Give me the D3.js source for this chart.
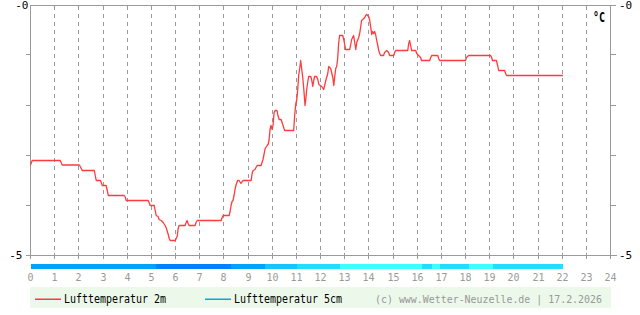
<!DOCTYPE html>
<html><head><meta charset="utf-8">
<script src="https://cdn.jsdelivr.net/npm/d3@7"></script>
<style>body{margin:0;background:#fff}svg{display:block;background:#fff}</style>
</head><body>
<svg id="c" width="640" height="315"></svg>
<script>
// ---- data ----
const hours = [0.00,0.07,1.23,1.31,2.02,2.06,2.14,2.64,2.68,2.72,2.89,2.93,2.97,3.13,3.22,3.88,3.92,3.96,4.87,4.91,4.95,5.12,5.16,5.20,5.28,5.32,5.41,5.49,5.57,5.61,5.70,5.74,5.78,5.99,6.07,6.11,6.15,6.40,6.44,6.48,6.52,6.56,6.81,6.85,6.90,7.89,7.93,7.97,8.22,8.26,8.30,8.34,8.38,8.43,8.47,8.51,8.57,8.63,8.71,8.76,8.80,9.13,9.17,9.21,9.29,9.33,9.38,9.54,9.58,9.62,9.67,9.71,9.79,9.83,9.87,9.91,9.95,10.00,10.04,10.08,10.12,10.20,10.24,10.29,10.37,10.45,10.49,10.52,10.89,10.93,10.98,11.02,11.06,11.10,11.14,11.18,11.22,11.27,11.31,11.36,11.39,11.43,11.47,11.51,11.60,11.64,11.68,11.72,11.76,11.84,11.89,11.93,12.05,12.13,12.17,12.22,12.30,12.34,12.42,12.51,12.55,12.59,12.63,12.67,12.71,12.75,12.79,12.92,12.96,13.00,13.04,13.21,13.25,13.29,13.37,13.41,13.46,13.50,13.58,13.62,13.66,13.70,13.75,13.83,13.87,13.91,13.99,14.03,14.08,14.12,14.16,14.20,14.24,14.28,14.32,14.37,14.41,14.45,14.49,14.61,14.65,14.74,14.82,14.86,15.03,15.07,15.11,15.61,15.65,15.69,15.73,15.77,15.94,15.98,16.06,16.14,16.18,16.52,16.56,16.60,16.85,16.89,16.93,18.00,18.04,18.13,19.04,19.08,19.12,19.28,19.33,19.37,19.62,19.66,19.70,22.03];
const temp2m = [-3.20,-3.11,-3.11,-3.20,-3.20,-3.23,-3.31,-3.31,-3.41,-3.51,-3.51,-3.55,-3.61,-3.61,-3.81,-3.81,-3.84,-3.91,-3.91,-3.95,-4.01,-4.01,-4.11,-4.21,-4.23,-4.29,-4.31,-4.35,-4.41,-4.45,-4.59,-4.67,-4.71,-4.71,-4.63,-4.47,-4.41,-4.41,-4.35,-4.31,-4.37,-4.41,-4.41,-4.35,-4.31,-4.31,-4.25,-4.21,-4.21,-4.13,-4.01,-3.93,-3.91,-3.79,-3.67,-3.59,-3.51,-3.51,-3.57,-3.53,-3.51,-3.51,-3.37,-3.31,-3.29,-3.25,-3.21,-3.21,-3.15,-3.09,-2.97,-2.87,-2.81,-2.79,-2.71,-2.50,-2.41,-2.49,-2.39,-2.15,-2.11,-2.11,-2.21,-2.29,-2.29,-2.41,-2.47,-2.51,-2.51,-2.21,-1.97,-1.89,-1.67,-1.39,-1.27,-1.11,-1.27,-1.47,-1.69,-2.01,-1.89,-1.69,-1.55,-1.43,-1.43,-1.51,-1.63,-1.51,-1.43,-1.43,-1.49,-1.59,-1.63,-1.69,-1.61,-1.51,-1.37,-1.23,-1.27,-1.45,-1.61,-1.43,-1.27,-1.23,-1.07,-0.77,-0.61,-0.61,-0.69,-0.79,-0.89,-0.89,-0.79,-0.69,-0.61,-0.73,-0.89,-0.75,-0.65,-0.57,-0.45,-0.31,-0.29,-0.25,-0.21,-0.19,-0.23,-0.29,-0.45,-0.59,-0.53,-0.57,-0.53,-0.59,-0.69,-0.81,-0.91,-0.97,-1.01,-1.01,-0.95,-0.91,-0.95,-1.01,-1.01,-0.95,-0.91,-0.91,-0.77,-0.71,-0.81,-0.91,-0.91,-0.97,-1.01,-1.05,-1.11,-1.11,-1.05,-1.01,-1.01,-1.07,-1.11,-1.11,-1.05,-1.01,-1.01,-1.05,-1.11,-1.11,-1.21,-1.31,-1.31,-1.37,-1.41,-1.41];

// 5cm temperature band: segment starts/ends (hours) and colour level
const bandStart = [0.00,5.19,8.29,9.69,11.02,12.79,16.18,16.60,16.93,18.13,19.12];
const bandEnd   = [5.19,8.29,9.69,11.02,12.79,16.18,16.60,16.93,18.13,19.12,22.05];
const bandLevel = [1,0,1,2,3,4,3,4,3,4,3];
const bandColors = ["#0082ff","#00a2ff","#19c3ff","#22ddff","#3cffff"];

const xTicks = d3.range(0, 25);
const yTicks = [-5,-4,-3,-2,-1,0];
const yLabels = {"0":"-0","-5":"-5"};
const seriesNames = ["Lufttemperatur 2m","Lufttemperatur 5cm"];
const seriesColors = ["#ff3b3b","#00a8e8"];
const unitLabel = "°C";
const credit = "(c) www.Wetter-Neuzelle.de | 17.2.2026";

// ---- drawing ----
const svg = d3.select("#c");
const mono = "'DejaVu Sans Mono', monospace";
const grey = "#999";
const x = d3.scaleLinear().domain([0,24]).range([30.5,610.5]);
const y = d3.scaleLinear().domain([-5,0]).range([255,5]);
const px = v => Math.floor(x(v)) + 0.5;

// vertical dashed grid
svg.append("g").selectAll("line").data(d3.range(1,24)).join("line")
  .attr("x1", px).attr("x2", px).attr("y1", 6).attr("y2", 255)
  .attr("stroke", grey).attr("stroke-dasharray", "4,4").attr("shape-rendering","crispEdges");

// top border
svg.append("line").attr("x1",30).attr("x2",615).attr("y1",5.5).attr("y2",5.5)
  .attr("stroke",grey).attr("shape-rendering","crispEdges");

// bottom axis
const gx = svg.append("g").attr("transform","translate(0,255.5)")
  .call(d3.axisBottom(x).tickValues(xTicks).tickSize(3).tickFormat(d3.format("d")));
gx.select(".domain").attr("stroke",grey).attr("d","M30,0H611");
gx.selectAll(".tick").attr("transform", d => `translate(${px(d)},0)`);
gx.selectAll(".tick line").attr("stroke",grey).attr("y1",-3).attr("y2",3).attr("shape-rendering","crispEdges");
gx.selectAll(".tick text").attr("fill",grey).attr("y",25).attr("dy",0)
  .attr("font-family",mono).attr("font-size",10);

// left axis
const gl = svg.append("g").attr("transform","translate(30.5,0)")
  .call(d3.axisLeft(y).tickValues(yTicks).tickSize(5).tickFormat(d => yLabels[d] || ""));
gl.select(".domain").attr("stroke",grey).attr("d","M0,5V258");
gl.selectAll(".tick line").attr("stroke",grey).attr("shape-rendering","crispEdges")
  .attr("x2", d => d === 0 ? 0 : -5);
gl.selectAll(".tick").attr("transform", d => `translate(0,${Math.floor(y(d))+0.5})`);
gl.selectAll(".tick text").attr("fill","#000").attr("font-family",mono).attr("font-size",11)
  .attr("x", d => d === 0 ? -2 : -8).attr("dy","0.36em");

// right axis
const gr = svg.append("g").attr("transform","translate(610.5,0)")
  .call(d3.axisRight(y).tickValues(yTicks).tickSize(5).tickFormat(d => yLabels[d] || ""));
gr.select(".domain").attr("stroke",grey).attr("d","M0,5V258");
gr.selectAll(".tick line").attr("stroke",grey).attr("shape-rendering","crispEdges")
  .attr("x1", d => d === -5 ? -3 : 0).attr("x2", d => d === -5 ? 6 : 5);
gr.selectAll(".tick").attr("transform", d => `translate(0,${Math.floor(y(d))+0.5})`);
gr.selectAll(".tick text").attr("fill","#000").attr("font-family",mono).attr("font-size",11)
  .attr("x", 8.5).attr("dy","0.36em");

// unit
svg.append("text").attr("x",605).attr("y",22).attr("text-anchor","end")
  .attr("font-family","'DejaVu Sans Mono', monospace").attr("font-weight","bold")
  .attr("font-size",14).attr("textLength",12).attr("lengthAdjust","spacingAndGlyphs")
  .text(unitLabel);

// temperature line
const pts = hours.map((h,i) => ({h, t: temp2m[i]}));
svg.append("path").datum(pts)
  .attr("fill","none").attr("stroke",seriesColors[0]).attr("stroke-width",1.3)
  .attr("stroke-linejoin","round")
  .attr("d", d3.line().x(d => x(d.h)).y(d => y(d.t)));

// 5cm band
svg.append("g").selectAll("rect").data(bandStart).join("rect")
  .attr("x", (d,i) => Math.round(x(d)))
  .attr("width", (d,i) => Math.round(x(bandEnd[i])) - Math.round(x(d)))
  .attr("y", 264).attr("height", 5)
  .attr("fill", (d,i) => bandColors[bandLevel[i]]);

// legend
svg.append("rect").attr("x",30).attr("y",287).attr("width",581).attr("height",21).attr("fill","#ecf8ea");
const lg = [{x1:35,x2:61,tx:64,len:102},{x1:205,x2:231,tx:234,len:108}];
lg.forEach((l,i) => {
  svg.append("rect").attr("x",l.x1).attr("width",l.x2-l.x1).attr("y",298.5).attr("height",1.5)
    .attr("fill",seriesColors[i]);
  svg.append("text").attr("x",l.tx).attr("y",303).attr("font-family",mono).attr("font-size",12)
    .attr("fill","#000").attr("textLength",l.len).attr("lengthAdjust","spacingAndGlyphs").text(seriesNames[i]);
});
svg.append("text").attr("x",375).attr("y",303).attr("font-family",mono).attr("font-size",11)
  .attr("fill",grey).attr("textLength",227).attr("lengthAdjust","spacingAndGlyphs").text(credit);
</script>
</body></html>
